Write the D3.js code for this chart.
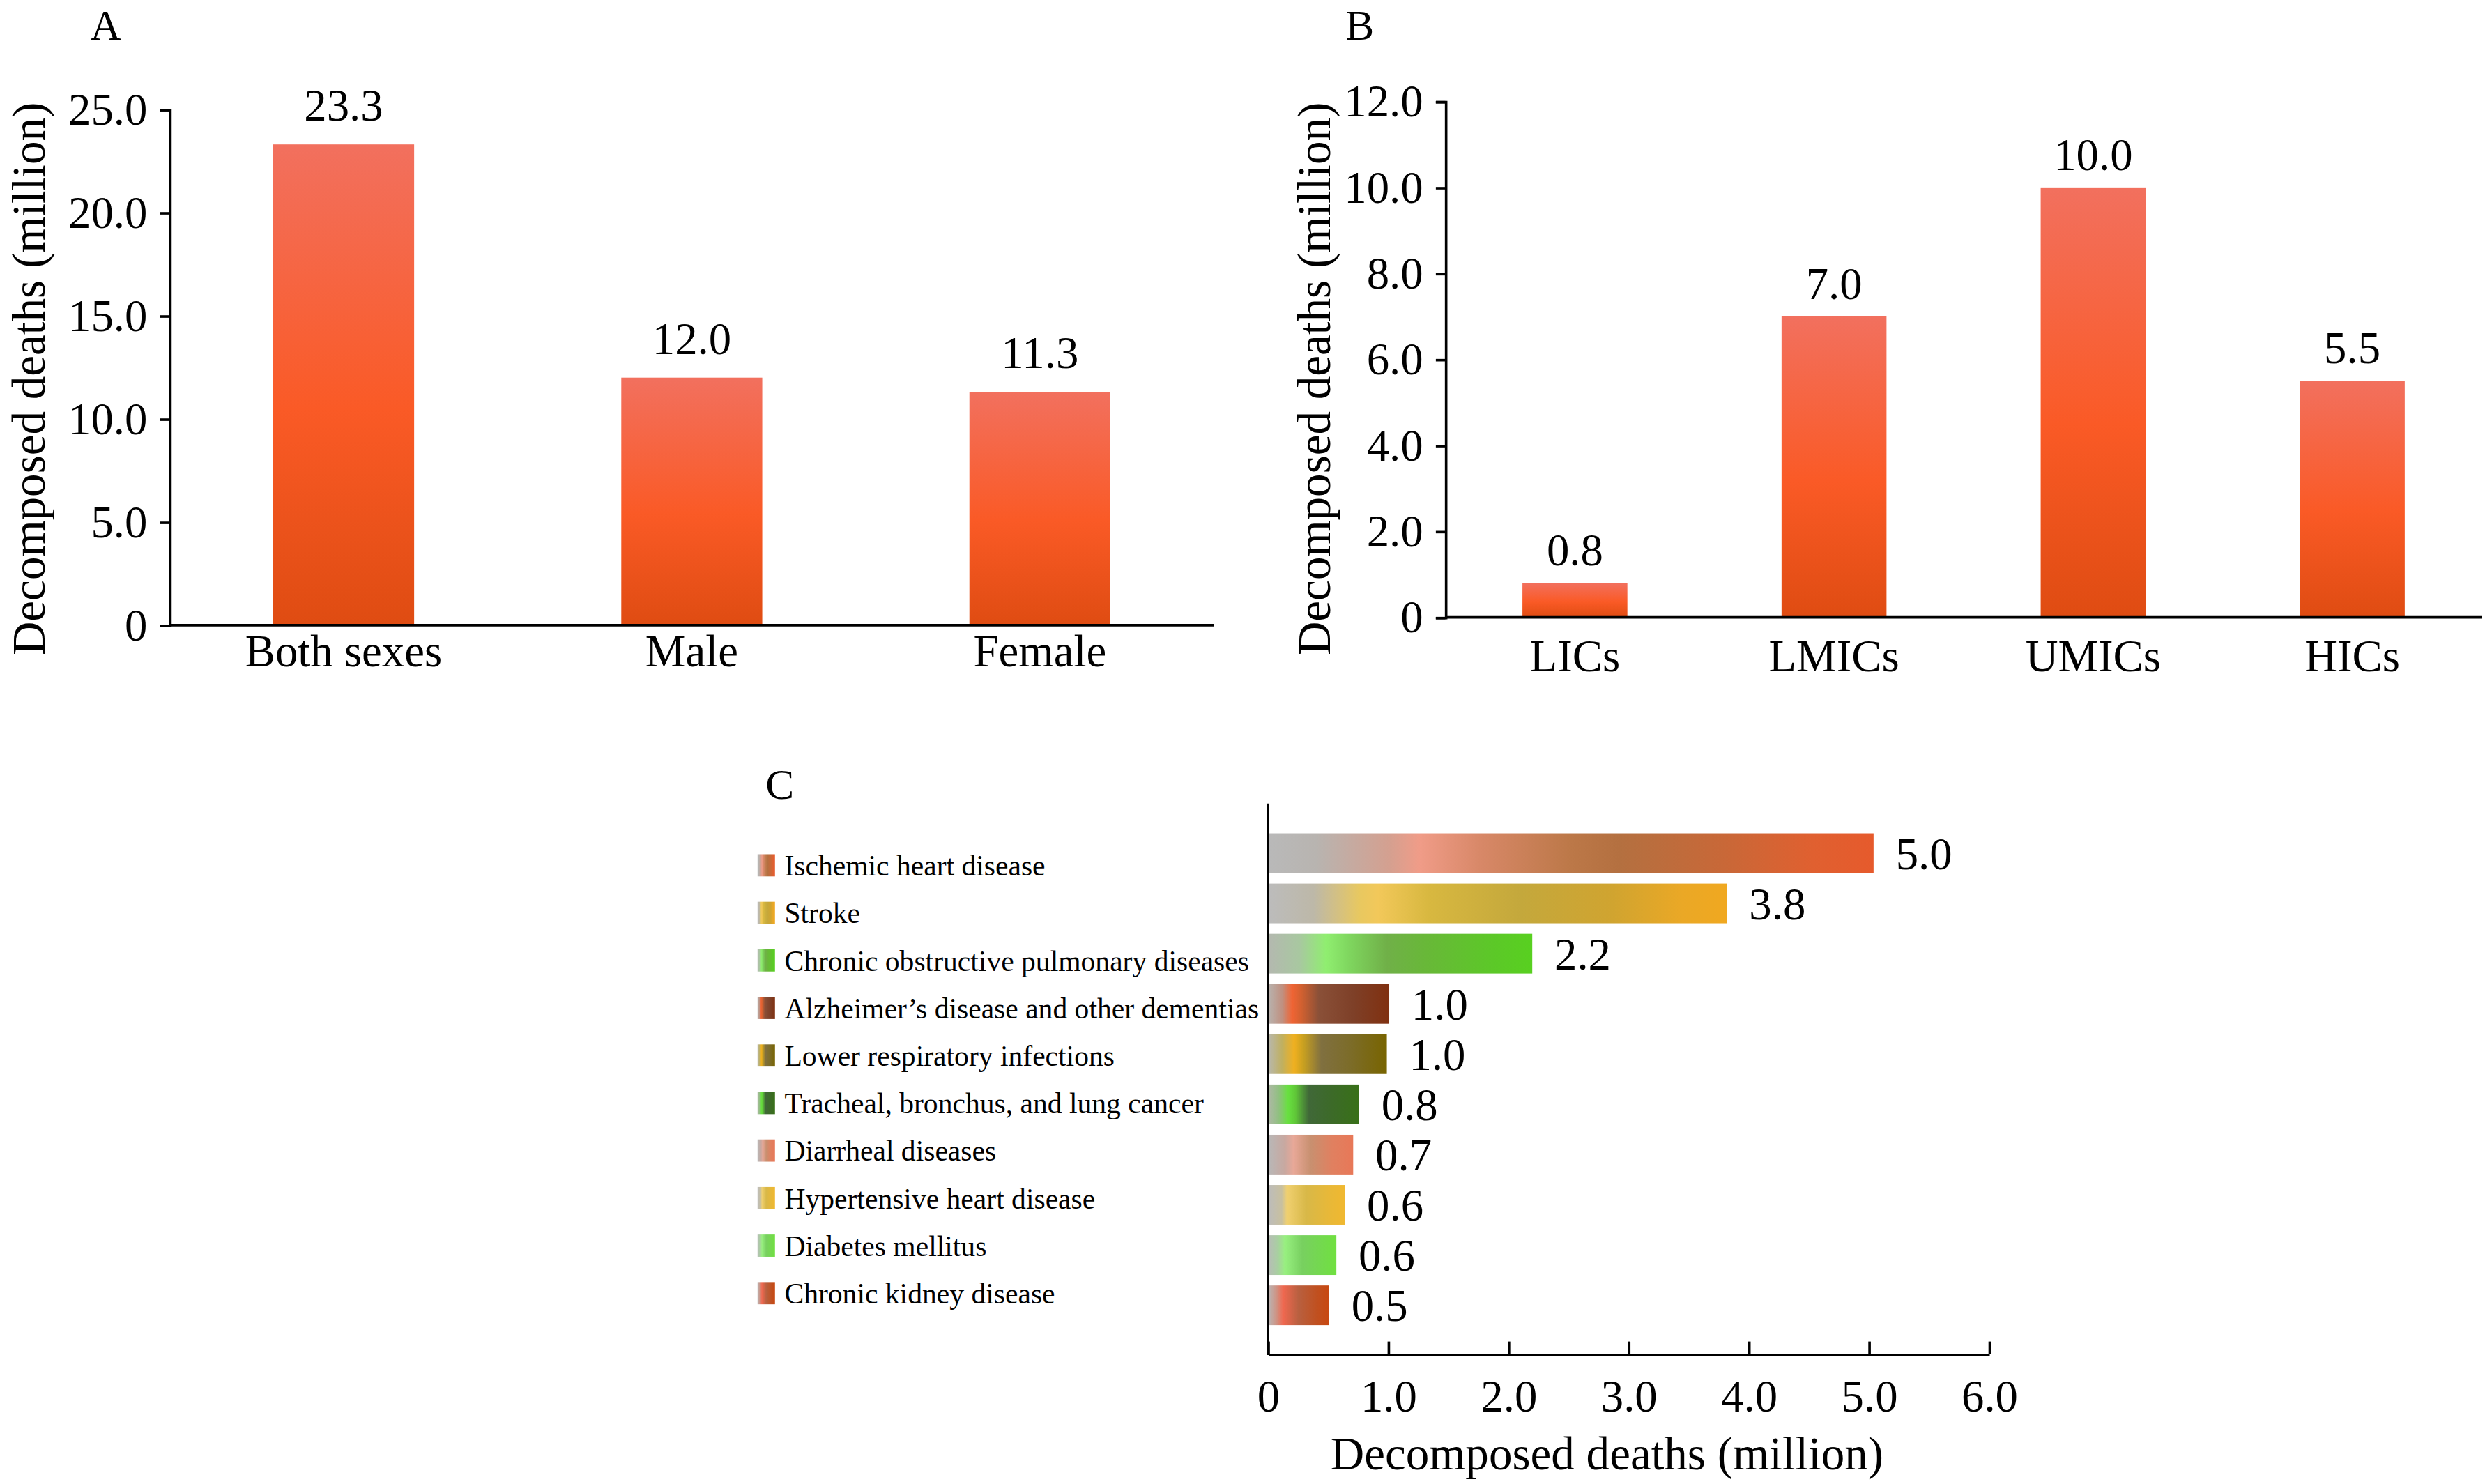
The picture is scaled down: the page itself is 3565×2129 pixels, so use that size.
<!DOCTYPE html>
<html>
<head>
<meta charset="utf-8">
<script src="https://cdn.jsdelivr.net/npm/d3@7"></script>
<style>
  html, body { margin: 0; padding: 0; background: #fff; }
  svg { display: block; font-family: "Liberation Serif", "Times New Roman", serif; }
</style>
</head>
<body>
<div id="chart"></div>
<script>
// panel A - by sex
const sexCats = ["Both sexes", "Male", "Female"];
const sexVals = [23.3, 12.0, 11.3];
const sexTicks = [0, 5, 10, 15, 20, 25];

// panel B - by income group
const incCats = ["LICs", "LMICs", "UMICs", "HICs"];
const incVals = [0.8, 7.0, 10.0, 5.5];
const incTicks = [0, 2, 4, 6, 8, 10, 12];

// panel C - by cause
const causes = [
  "Ischemic heart disease",
  "Stroke",
  "Chronic obstructive pulmonary diseases",
  "Alzheimer\u2019s disease and other dementias",
  "Lower respiratory infections",
  "Tracheal, bronchus, and lung cancer",
  "Diarrheal diseases",
  "Hypertensive heart disease",
  "Diabetes mellitus",
  "Chronic kidney disease"
];
const causeVals = [5.04, 3.82, 2.2, 1.01, 0.99, 0.76, 0.71, 0.64, 0.57, 0.51];
const causeTicks = [0, 1, 2, 3, 4, 5, 6];

// gradient stops per cause (style only)
const causeStops = [
  [[0,"#b9b9b9"],[0.08,"#b8b4b0"],[0.2,"#d4a090"],[0.25,"#f09c88"],[0.35,"#d88868"],[0.5,"#bc7848"],[0.58,"#b47040"],[0.75,"#c86838"],[0.9,"#e06030"],[1,"#e65a2c"]],
  [[0,"#bcbcbc"],[0.1,"#bdb8a8"],[0.2,"#e8c860"],[0.24,"#f2c85a"],[0.35,"#d8b840"],[0.55,"#c4a83c"],[0.75,"#d0a430"],[0.9,"#eaa826"],[1,"#f0a820"]],
  [[0,"#b4b8b0"],[0.12,"#a8c8a0"],[0.22,"#90ee70"],[0.3,"#80d860"],[0.45,"#70b048"],[0.6,"#68b838"],[0.85,"#5cc828"],[1,"#58d020"]],
  [[0,"#b8b4b0"],[0.12,"#c09080"],[0.2,"#f06434"],[0.28,"#d06030"],[0.42,"#8a5038"],[0.7,"#7e4028"],[1,"#803010"]],
  [[0,"#b8b8b0"],[0.12,"#c0b060"],[0.22,"#f0b020"],[0.3,"#c8a020"],[0.45,"#807040"],[0.7,"#7c6c28"],[1,"#786400"]],
  [[0,"#b0b8a8"],[0.12,"#90c080"],[0.22,"#68e040"],[0.3,"#60c838"],[0.45,"#406838"],[0.7,"#3c6a28"],[1,"#387018"]],
  [[0,"#b8b8b8"],[0.2,"#c8a8a0"],[0.3,"#e8a898"],[0.5,"#c89070"],[0.75,"#e08060"],[1,"#e87858"]],
  [[0,"#bcbcbc"],[0.18,"#c8c0a0"],[0.25,"#f0d070"],[0.5,"#d8b848"],[0.8,"#e8b838"],[1,"#f0b830"]],
  [[0,"#b8bcb8"],[0.15,"#a8d0a0"],[0.25,"#98f080"],[0.5,"#78d060"],[1,"#70e040"]],
  [[0,"#b8b8b8"],[0.15,"#d09080"],[0.25,"#f06850"],[0.5,"#b86040"],[0.8,"#c05020"],[1,"#c84810"]]
];

const W = 3565, H = 2129;
const VW = 1568, VH = VW * H / W;
const fmt = d => d === 0 ? "0" : d.toFixed(1);

const svg = d3.select("#chart").append("svg")
  .attr("width", W).attr("height", H)
  .attr("viewBox", `0 0 ${VW} ${VH}`);

const defs = svg.append("defs");
const orange = defs.append("linearGradient").attr("id", "orange")
  .attr("x1", 0).attr("y1", 0).attr("x2", 0).attr("y2", 1);
[[0,"#f2705e"],[0.55,"#fa5a26"],[1,"#df4c12"]].forEach(s =>
  orange.append("stop").attr("offset", s[0]).attr("stop-color", s[1]));

causeStops.forEach((st, i) => {
  const g = defs.append("linearGradient").attr("id", "c" + i)
    .attr("x1", 0).attr("y1", 0).attr("x2", 1).attr("y2", 0);
  st.forEach(s => g.append("stop").attr("offset", s[0]).attr("stop-color", s[1]));
});

function styleAxis(g) {
  g.selectAll("path, line").attr("stroke", "#000").attr("stroke-width", 1.6);
  g.selectAll("text").attr("font-size", 28.5).attr("font-family", "Liberation Serif").attr("fill", "#000");
}

// vertical bar panel
function vbars(cats, vals, ticks, o) {
  const x = d3.scaleBand().domain(cats).range([o.x0, o.x1])
    .paddingInner(0.595).paddingOuter(0.2975);
  const y = d3.scaleLinear().domain([0, ticks[ticks.length - 1]]).range([o.y0, o.y1]);
  const g = svg.append("g");

  g.selectAll("rect").data(vals).join("rect")
    .attr("x", (d, i) => x(cats[i]))
    .attr("width", x.bandwidth())
    .attr("y", d => y(d))
    .attr("height", d => y(0) - y(d))
    .attr("fill", "url(#orange)");

  g.append("g").attr("transform", `translate(${o.x0},0)`)
    .call(d3.axisLeft(y).tickValues(ticks).tickFormat(fmt).tickSizeOuter(0).tickSize(6).tickPadding(8))
    .call(styleAxis);

  g.append("line").attr("x1", o.x0).attr("x2", o.x1).attr("y1", y(0)).attr("y2", y(0))
    .attr("stroke", "#000").attr("stroke-width", 1.6);

  g.selectAll(".cat").data(cats).join("text")
    .attr("x", d => x(d) + x.bandwidth() / 2).attr("y", y(0) + o.catDy)
    .attr("text-anchor", "middle").attr("font-size", 28.5).text(d => d);

  g.selectAll(".val").data(vals).join("text")
    .attr("x", (d, i) => x(cats[i]) + x.bandwidth() / 2).attr("y", d => y(d) - o.valGap)
    .attr("text-anchor", "middle").attr("font-size", 28.5).text(d => d.toFixed(1));

  g.append("text")
    .attr("transform", `translate(${o.titleX},${o.titleY}) rotate(-90)`)
    .attr("text-anchor", "middle").attr("font-size", 29.5)
    .text("Decomposed deaths (million)");

  g.append("text").attr("x", o.labX).attr("y", 25).attr("font-size", 27).text(o.label);
}

vbars(sexCats, sexVals, sexTicks,
  {x0: 107, x1: 766, y0: 394.5, y1: 69, catDy: 26, valGap: 15, titleX: 28, titleY: 239, labX: 57, label: "A"});
vbars(incCats, incVals, incTicks,
  {x0: 912, x1: 1566, y0: 389.5, y1: 64, catDy: 34, valGap: 11, titleX: 839, titleY: 239, labX: 849, label: "B"});

// panel C - horizontal bars
const cx = d3.scaleLinear().domain([0, 6]).range([800, 1255]);
const cy = d3.scaleBand().domain(causes).range([522.5, 839.5])
  .paddingInner(0.21).paddingOuter(0.105);
const gc = svg.append("g");

gc.selectAll("rect.bar").data(causeVals).join("rect").attr("class", "bar")
  .attr("x", cx(0))
  .attr("y", (d, i) => cy(causes[i]))
  .attr("width", d => cx(d) - cx(0))
  .attr("height", cy.bandwidth())
  .attr("fill", (d, i) => `url(#c${i})`);

gc.selectAll("text.val").data(causeVals).join("text").attr("class", "val")
  .attr("x", d => cx(d) + 14)
  .attr("y", (d, i) => cy(causes[i]) + cy.bandwidth() / 2 + 10)
  .attr("font-size", 28.5).text(d => d.toFixed(1));

gc.append("g").attr("transform", "translate(0,854.5)")
  .call(d3.axisBottom(cx).tickValues(causeTicks).tickFormat(fmt)
    .tickSizeInner(-8).tickSizeOuter(0).tickPadding(16))
  .call(styleAxis);

gc.append("line").attr("x1", cx(0)).attr("x2", cx(0)).attr("y1", 507).attr("y2", 855)
  .attr("stroke", "#000").attr("stroke-width", 1.6);

gc.append("text").attr("x", 1014).attr("y", 927)
  .attr("text-anchor", "middle").attr("font-size", 29.5).text("Decomposed deaths (million)");

gc.append("text").attr("x", 483).attr("y", 504).attr("font-size", 27).text("C");

// legend
const leg = gc.append("g").selectAll("g").data(causes).join("g")
  .attr("transform", (d, i) => `translate(478,${546 + i * 30})`);
leg.append("rect").attr("x", 0).attr("y", -7).attr("width", 11).attr("height", 14)
  .attr("fill", (d, i) => `url(#c${i})`);
leg.append("text").attr("x", 17).attr("y", 6.5).attr("font-size", 18.3).text(d => d);
</script>
</body>
</html>
